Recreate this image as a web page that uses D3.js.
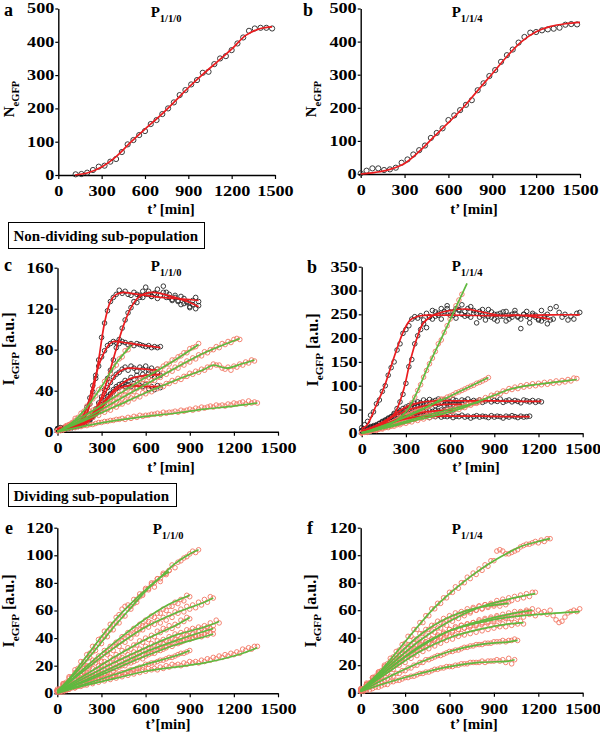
<!DOCTYPE html>
<html><head><meta charset="utf-8">
<script src="https://cdn.jsdelivr.net/npm/d3@7"></script>
<style>body{margin:0;background:#fff;}svg{display:block;}text{font-family:"Liberation Serif","Times New Roman",serif;font-weight:bold;fill:#000;white-space:pre;}</style>
</head><body><svg id="chart" width="600" height="737"></svg>
<script>
// ---------- tick values ----------
const xTickVals = [0,300,600,900,1200,1500];
const yTicksAB = [0,100,200,300,400,500];
const yTicksC = [0,40,80,120,160];
const yTicksD = [0,50,100,150,200,250,300,350];
const yTicksEF = [0,20,40,60,80,100,120];

// ---------- panel a / b : number of eGFP cells ----------
const aStart = 120, aStep = 40;
const aObs = [2,3,7,15,25,28,40,48,69,92,105,120,132,153,165,183,200,218,240,255,272,285,307,310,333,350,357,375,395,413,433,440,442,442,440];
const aFit = [[115,0],[200,6],[300,24],[400,55],[500,98],[600,138],[700,176],[800,218],[900,262],[1000,302],[1100,340],[1200,378],[1300,420],[1400,440],[1480,445]];
const bStart = 0, bStep = 40;
const bObs = [2,10,17,17,12,14,19,34,44,59,72,86,109,124,138,163,177,193,209,223,253,274,296,314,339,359,376,397,414,427,429,434,437,439,442,451,453,452];
const bFit = [[0,0],[100,5],[200,14],[300,32],[400,68],[500,112],[600,155],[700,200],[800,252],[900,303],[1000,355],[1100,400],[1200,430],[1300,446],[1400,454],[1500,458]];

// ---------- single-cell traces (sampling every 20 min from t'=0) ----------
const trStep = 20;
// panel c, non-dividing, P1/1/0
const cK1 = [3,4,3,4,5,5,6,8,10,14,19,27,39,52,70,92,106,118,127,131,134,138,135,137,134,133,136,134,131,137,141,134,132,135,130,133,142,136,131,128,133,127,124,130,126,121,128,131,127];
const cK1Fit = [[0,3],[100,4],[150,7],[200,18],[250,45],[280,70],[320,106],[360,127],[400,134],[450,136],[500,135],[600,133],[700,131],[800,130],[900,129],[960,128]];
const cK2 = [2,3,3,4,4,5,6,7,8,9,11,13,18,22,28,34,41,52,60,70,82,90,101,109,116,121,127,126,133,131,134,137,132,135,139,133,136,131,134,129,131,128,132,125,127,122,124,120,123];
const cK2Fit = [[0,2],[100,4],[200,10],[250,19],[300,34],[350,56],[400,81],[450,104],[500,121],[550,131],[600,135],[650,136],[700,135],[800,131],[900,126],[960,122]];
const cK3 = [3,3,4,4,5,5,7,9,13,18,24,33,45,55,64,73,79,84,86,88,87,86,88,87,85,86,84,86,85,84,83,84,82,83,82,83];
const cK3Fit = [[0,3],[100,5],[150,9],[200,24],[250,50],[300,72],[350,85],[380,88],[450,87],[550,85],[650,83],[700,82]];
const cK4 = [2,3,3,4,4,5,6,6,8,9,11,14,18,22,26,31,37,43,48,53,56,58,61,63,60,64,62,59,63,61,64,60,62,59,61];
const cK4Fit = [[0,2],[100,4],[200,11],[300,31],[350,45],[400,56],[450,61],[500,62],[600,61],[680,60]];
const cK5 = [2,2,3,3,4,4,5,6,7,8,10,12,15,18,22,26,30,34,37,41,44,46,47,50,49,53,51,55,52,56,54,57,55,53,57,55];
const cK5Fit = [[0,2],[100,4],[200,10],[300,26],[350,35],[400,43],[450,48],[500,52],[600,55],[700,56]];
const cK6 = [2,3,3,3,4,4,5,5,6,7,9,11,14,17,20,23,28,32,36,39,42,43,45,44,46,44,47,43,45,44,46,42,44,41,45,43];
const cK6Fit = [[0,2],[100,4],[200,9],[300,23],[350,34],[400,41],[450,44],[500,45],[600,44],[700,44]];
const cG1 = [1,3,2,6,7,9,13,14,18,20,25,27,32,35,41,43,49,51,57,63,65,71,73,79,80,85];
const cG1Fit = [[0,0],[100,9],[200,24],[300,44],[400,67],[500,84]];
const cG2 = [1,2,4,4,7,8,11,11,14,16,17,20,21,22,26,25,29,31,31,34,37,36,40,39,43,45,45,48,50,51,54,53,57,57,61,61,64,66,66,70,70,73,74,77,77,81,82,83,86];
const cG2Fit = [[0,0],[200,17],[400,35],[600,53],[800,70],[960,85]];
const cG3 = [1,3,2,5,6,8,9,11,10,14,13,17,16,20,21,23,23,26,27,30,29,33,32,36,35,39,39,42,44,43,47,47,50,50,53,53,57,56,60,59,63,62,66,65,69,68,72,71,75,74,78,77,80,80,83,82,86,85,88,87,90,91,90];
const cG3Fit = [[0,0],[200,14],[400,30],[600,46],[800,62],[1000,77],[1240,91]];
const cG4 = [1,2,2,5,5,7,6,9,10,12,11,14,14,17,16,20,19,22,21,25,24,27,27,30,29,33,32,35,34,38,37,40,39,43,42,45,44,47,47,50,49,52,51,54,54,57,56,59,58,61,60,63,63,66,65,65,62,61,63,60,64,63,66,65,68,67,70,69];
const cG4Fit = [[0,0],[200,12],[400,25],[600,38],[800,50],[1000,61],[1060,65],[1150,62],[1250,66],[1340,70]];
const cG5 = [1,1,2,3,3,4,4,5,5,6,6,7,7,8,9,9,10,10,11,11,12,12,13,12,14,13,15,14,16,15,16,16,17,17,18,17,19,18,19,19,20,19,21,20,21,22,21,23,22,24,23,24,25,24,26,25,26,25,27,26,28,27,28,29,27,30,28,29,28];
const cG5Fit = [[0,0],[200,6],[400,11],[600,15],[800,18],[1000,22],[1200,25],[1360,28]];

// panel d, non-dividing, P1/1/4
const dK1 = [12,18,25,38,45,62,70,88,100,122,138,150,175,188,210,218,226,240,245,242,247,238,252,244,258,246,252,240,256,262,248,255,242,260,250,246,262,244,252,232,256,248,238,260,244,250,236,252,246,256,240,250,258,244,220,250,256,242,252,248,238,258,246,250,262,240,266,254,244,250,238,246,240,252,254];
const dK1Fit = [[0,10],[35,17],[100,60],[150,95],[190,132],[240,178],[285,215],[330,238],[400,247],[500,248],[700,248],[900,247],[1100,248],[1300,249],[1480,249]];
const dK2 = [6,8,10,12,14,16,20,22,25,30,34,42,52,66,82,105,140,155,188,205,218,230,222,245,240,255,248,262,252,268,255,248,262,258,270,256,248,266,258,252,244,260,250,246,255,240,250,246,255,236,248,244,252,246,240,250,246,232,248,244,240,236,242,230,238];
const dK2Fit = [[0,5],[100,12],[215,38],[283,90],[328,150],[373,198],[419,232],[486,248],[600,258],[713,261],[826,254],[939,248],[1052,248],[1165,245],[1280,240]];
const dK3 = [5,8,9,12,14,16,20,24,27,32,35,40,44,47,52,55,58,60,63,66,64,70,66,71,67,69,72,65,70,68,66,71,69,64,70,68,72,66,69,67,70,65,68,71,66,69,67,72,65,68,70,66,69,67,64,70,68,66,69,65,68,66];
const dK3Fit = [[0,5],[100,15],[200,35],[300,55],[400,65],[500,68],[700,68],[900,68],[1100,67],[1220,67]];
const dK4 = [3,4,6,8,9,11,13,16,18,20,22,25,27,29,31,33,34,35,36,34,37,35,36,33,37,35,38,34,36,35,37,33,36,35,38,34,36,32,35,37,34,36,35,33,37,34,36,35,32,36,34,37,35,33,36,34,35,36];
const dK4Fit = [[0,3],[100,10],[200,22],[300,31],[400,35],[600,36],[800,36],[1000,35],[1140,35]];
const dK5 = [6,8,11,14,16,18,21,25,28,30,34,37,40,43,45,48,50,53,55,56,58,57,60,59,62,58,61,63,59,62,60,61,63,60,62];
const dK5Fit = [[0,5],[100,17],[200,33],[300,47],[400,56],[500,60],[600,61],[680,61]];
const dK6 = [4,6,7,9,11,13,15,17,20,22,24,27,29,31,34,36,38,40,42,43,44,46,45,47,46,48,47,49,48,50,48,49];
const dK6Fit = [[0,4],[100,12],[200,24],[300,36],[400,43],[500,47],[620,49]];
const dG1 = [2,3,4,5,7,8,10,12,14,17,20,24,28,33,39,45,55,64,76,90,102,118,132,146,158,172,188,196,212,226,240,252,268,280,292];
const dG1Fit = [[0,2],[100,8],[200,20],[300,45],[373,85],[450,140],[550,205],[650,272],[715,315]];
const dG2 = [1,3,5,6,8,11,13,15,17,20,22,25,27,30,32,36,38,41,44,47,50,52,56,58,61,64,67,70,72,76,78,81,85,87,90,93,96,99,101,105,107,110,113,117];
const dG2Fit = [[0,0],[200,22],[400,50],[600,78],[700,93],[860,117]];
const dG3 = [1,3,2,5,7,6,9,9,12,12,15,15,18,18,22,21,25,24,29,27,32,30,35,33,38,36,41,39,44,42,47,46,51,50,55,54,60,59,65,63,70,69,75,73,80,79,84,83,89,88,94,92,97,94,100,97,102,99,104,100,105,102,107,103,108,105,110,106,111,108,113,110,116,115];
const dG3Fit = [[0,0],[200,14],[400,30],[600,45],[700,55],[800,68],[900,80],[1000,92],[1100,99],[1200,103],[1300,107],[1460,113]];
const dG4 = [1,3,4,6,8,10,13,15,17,20,22,25,27,30,32,35,38,41,44,46,48,52,55,58,62,65,68,72];
const dG4Fit = [[0,0],[200,22],[400,48],[540,72]];
const dG5 = [1,2,4,5,7,8,10,11,13,14,16,18,20,21,23,25,27,29,30,32,34,35,37,39,41,42,44,45,47,49,50,52,54,55,57,58,60,62,63,65,66];
const dG5Fit = [[0,0],[200,16],[400,34],[600,50],[800,66]];

// panel e, dividing, P1/1/0
const eT1 = [3,3,7,7,11,12,15,16,20,21,25,26,30,31,36,36,41,41,46,46,51,51,56,56,61,61,65,66,70,71,75,75,79,77,83,81,87,87,89,93,91,95,96,98,99,101,103,102,104];
const eT1Fit = [[0,2],[100,12],[200,24],[300,37],[400,50],[500,62],[600,74],[700,84],[800,94],[900,101],[960,104]];
const eT2 = [2,3,7,8,12,12,17,18,23,23,28,29,34,34,39,40,45,45,50,50,55,57,61,63,64,63,68,68,72,72,76,76,80,80,83,83,86,86,89];
const eT2Fit = [[0,1],[100,13],[200,27],[300,41],[400,54],[500,65],[600,75],[700,84],[760,88]];
const eT3 = [2,2,6,5,9,9,13,13,17,16,20,20,24,24,27,27,31,30,34,34,37,37,41,40,44,43,47,46,50,49,53,52,56,55,58,58,61,60,63,63,66,65,68,67,71,70];
const eT3Fit = [[0,1],[150,15],[300,29],[450,42],[600,54],[750,64],[900,71]];
const eT4 = [2,3,6,5,9,9,13,12,16,15,19,19,22,22,25,23,29,28,32,31,35,34,38,37,41,40,43,43,46,46,49,48,51,50,53,51,55,53,57,55,59,58,61,59,63,61,64,62,66,64,68,66,70,69];
const eT4Fit = [[0,1],[200,18],[400,34],[600,48],[800,58],[1000,66],[1060,69]];
const eT5 = [2,2,5,4,7,7,10,9,13,12,15,15,18,17,20,20,23,22,26,25,28,27,31,30,33,32,35,35,38,37,40,39,42,41,45,44,47,46,49,47,50,49,53,52,55,54];
const eT5Fit = [[0,1],[200,14],[400,27],[600,39],[800,49],[900,55]];
const eT6 = [2,2,4,3,6,6,9,8,11,10,13,12,15,14,17,17,20,19,22,21,24,23,26,25,28,27,30,29,32,31,34,33,36,35,38,37,39,38,41,40,43,42,44,43,46,45,47,46,48,47,49,48,51,49,53,51];
const eT6Fit = [[0,1],[200,12],[400,23],[600,33],[800,42],[1000,48],[1100,52]];
const eT7 = [2,1,3,3,5,5,7,6,9,8,11,10,13,12,15,14,17,16,19,18,21,20,23,22,25,24,27,26,29,28,31,30,32,31,34,33,36,34,37,36,39,38,40,39,42,41,43,42,45,43,46,45,47,46];
const eT7Fit = [[0,1],[200,10],[400,20],[600,30],[800,38],[1000,45],[1060,47]];
const eT8 = [1,2,2,3,4,5,5,6,8,8,9,10,11,11,13,13,14,15,17,16,18,19,20,20,22,22,23,24,26,25,27,28,29,29,31,31,32,33,35,34,36,36,37,38,39,39,40,41,42,41,43,42,44,43];
const eT8Fit = [[0,1],[200,9],[400,18],[600,27],[800,35],[1000,41],[1060,43]];
const eT9 = [1,1,2,2,3,4,4,5,6,6,7,8,8,9,10,10,11,12,12,13,14,14,15,15,16,17,17,18,19,19,21,21,22,22,23,24,24,25,26,26,27,28,29,29,30,31];
const eT9Fit = [[0,1],[200,7],[400,14],[600,21],[800,27],[900,31]];
const eT10 = [1,2,1,3,3,5,4,6,5,7,6,8,7,9,8,10,9,11,10,12,11,13,12,14,13,15,14,16,15,17,16,18,17,18,17,19,18,20,19,21,20,21,20,22,21,23,22,23,22,24,23,25,24,26,25,27,26,28,27,29,28,30,29,32,31,33,32,34,34];
const eT10Fit = [[0,0],[200,6],[400,11],[600,16],[800,19],[1000,22],[1200,27],[1360,33]];

// panel f, dividing, P1/1/4
const fT1 = [3,3,7,7,11,12,15,16,20,21,25,26,30,31,35,36,41,41,46,46,51,51,56,56,61,61,65,65,69,69,73,73,77,76,80,80,84,83,87,86,90,89,93,92,96,96,103,104,103,101,101,102,103,104,106,107,108,108,109,110,109,111,110,112,112];
const fT1Fit = [[0,2],[100,12],[200,24],[300,37],[400,50],[500,62],[600,72],[700,81],[800,89],[900,96],[1000,102],[1100,107],[1200,110],[1280,112]];
const fT2 = [2,3,6,6,10,10,14,14,18,17,21,21,25,25,29,28,32,32,36,35,39,38,42,41,45,44,47,47,50,49,53,52,55,54,57,56,59,58,61,60,63,61,64,63,65,64,67,65,68,66,69,67,70,68,71,69,72,70,73,73];
const fT2Fit = [[0,1],[200,20],[400,38],[600,52],[800,62],[1000,68],[1180,72]];
const fT3 = [2,3,6,7,11,11,15,15,19,19,23,23,27,27,31,31,35,35,39,39,43,43,46,46,49,49,52,51,54,53,56,55,58,57,59,58,61,59,62,60,63,61,64,62,64,63,65,63,66,64,66];
const fT3Fit = [[0,1],[200,22],[400,42],[600,55],[800,62],[1000,65]];
const fT4 = [2,3,6,6,9,9,13,12,16,16,19,19,23,22,26,25,29,28,32,31,35,34,37,36,39,39,42,41,44,43,46,45,48,46,49,47,50,48,51,49,52,50,53,51,54,52,55,53,55,54,56,54,57,55,58,55,59,57,58,56,60,58,59,57,60,56,53,51,52,55,58,59,60,59,61];
const fT4Fit = [[0,1],[200,18],[400,34],[600,45],[800,51],[1000,55],[1200,57],[1480,59]];
const fT5 = [2,2,6,5,9,9,13,13,16,16,19,19,22,22,25,25,28,28,31,31,34,33,37,36,39,38,41,40,43,42,46,44,47,46,49,47,50,49,51,50,53,51,54,52,55,53,56,54,57,55,58,56,59,57,59,58,60,59,61];
const fT5Fit = [[0,1],[200,18],[400,33],[600,45],[800,52],[1000,57],[1160,60]];
const fT6 = [2,2,5,5,8,8,11,11,14,14,17,17,20,20,23,22,26,25,28,27,31,30,33,32,35,34,37,36,39,38,41,39,42,41,43,42,45,43,46,44,47,45,48,46,49,47,49,48,50,48,51,49,51,50,52,50];
const fT6Fit = [[0,1],[200,16],[400,30],[600,40],[800,46],[1000,50],[1100,51]];
const fT7 = [1,2,3,4,5,6,7,8,9,10,12,12,14,14,16,16,18,18,20,20,22,22,24,24,25,26,27,27,28,29,30,30,31,31,32,33,33,34,34,35,35,35,36,36,36,37,37,37,38,37,38,38,39,38];
const fT7Fit = [[0,1],[200,12],[400,22],[600,30],[800,35],[1000,37],[1060,38]];
const fT8 = [1,1,2,2,3,4,4,5,6,6,8,8,9,9,10,11,11,12,12,13,14,14,15,15,16,17,17,18,18,19,19,19,20,20,21,21,21,22,22,22,22,23,22,23,23,23,24,23,24,22,25,21,24];
const fT8Fit = [[0,1],[200,8],[400,14],[600,19],[800,22],[1000,23],[1040,24]];

// ---------- drawing ----------
const svg = d3.select('#chart');
const FONT = '"Liberation Serif","Times New Roman",serif';
const COL = {blackPt:'#262626', redPt:'#f27763', redLine:'#ea1c1f', greenLine:'#5fb93f'};

function richText(parent, x, y, parts, size, opts = {}) {
  let tf = `translate(${x},${y})`;
  if (opts.rotate) tf += ' rotate(-90)';
  const t = parent.append('text').attr('transform', tf)
    .attr('text-anchor', opts.anchor || 'start').attr('font-size', size);
  let shift = 0;
  parts.forEach(([s, sub]) => {
    const ts = t.append('tspan').text(s);
    if (sub) { const d = size * 0.32; ts.attr('font-size', size * 0.7).attr('dy', d - shift); shift = d; }
    else if (shift) { ts.attr('dy', -shift); shift = 0; }
  });
  return t;
}

function tr(obs, fit, kind, start = 0, step = trStep) { return {obs, fit, kind, start, step}; }

function drawPanel(p) {
  const g = svg.append('g');
  const x = d3.scaleLinear().domain([0, 1500]).range(p.xr);
  const y = d3.scaleLinear().domain([0, p.ymax]).range(p.yr);

  const xa = g.append('g').attr('transform', `translate(0,${p.yr[0]})`)
    .call(d3.axisBottom(x).tickValues(xTickVals).tickSize(4).tickSizeOuter(0).tickPadding(7).tickFormat(d3.format('d')));
  const ya = g.append('g').attr('transform', `translate(${p.xr[0]},0)`)
    .call(d3.axisLeft(y).tickValues(p.yticks).tickSize(3).tickSizeOuter(0).tickPadding(3).tickFormat(d3.format('d')));
  [xa, ya].forEach(a => {
    a.select('.domain').attr('stroke', '#000').attr('stroke-width', 1.4);
    a.selectAll('.tick line').attr('stroke', '#000').attr('stroke-width', 1.2);
    a.selectAll('text').attr('font-family', FONT).attr('font-weight', 'bold').attr('font-size', 14).attr('fill', '#000');
  });
  xa.selectAll('text').attr('transform', 'scale(1.3,1)');
  ya.selectAll('text').attr('transform', 'scale(1.3,1)').attr('x', -4 / 1.3);

  const line = d3.line().x(d => x(d[0])).y(d => y(d[1])).curve(d3.curveCatmullRom.alpha(0.5));
  ['k', 'r'].forEach(kind => {
    p.traces.filter(t => t.kind === kind).forEach(t => {
      g.append('g').selectAll('circle').data(t.obs).join('circle')
        .attr('cx', (d, i) => x(t.start + i * t.step)).attr('cy', d => y(d)).attr('r', p.r)
        .attr('fill', 'none').attr('stroke', kind === 'k' ? COL.blackPt : COL.redPt).attr('stroke-width', 0.9);
    });
  });
  ['k', 'r'].forEach(kind => {
    p.traces.filter(t => t.kind === kind).forEach(t => {
      g.append('path').datum(t.fit).attr('d', line).attr('fill', 'none')
        .attr('stroke', kind === 'k' ? COL.redLine : COL.greenLine).attr('stroke-width', 1.7);
    });
  });

  richText(g, p.letter[1], p.letter[2], [[p.letter[0], 0]], 18);
  richText(g, p.title[0], p.title[1], [['P', 0], [p.title[2], 1]], 15, {anchor: 'middle'});
  richText(g, p.xt[0], p.xt[1], [[p.xt[2], 0]], 15, {anchor: 'middle'});
  richText(g, p.yt[0], p.yt[1], p.yt[2], p.yt[3], {anchor: 'middle', rotate: true});
}

const Nlab = [['N', 0], ['eGFP', 1]];
const Ilab = [['I', 0], ['eGFP', 1], [' [a.u.]', 0]];

const panels = [
  {xr: [58.3, 275], yr: [175, 8.5], ymax: 500, yticks: yTicksAB, r: 2.6,
   traces: [tr(aObs, aFit, 'k', aStart, aStep)],
   letter: ['a', 4, 16], title: [166, 17, '1/1/0'], xt: [171, 214, 't\u2019 [min]'], yt: [14, 99, Nlab, 15]},
  {xr: [360.7, 580], yr: [174, 8.5], ymax: 500, yticks: yTicksAB, r: 2.6,
   traces: [tr(bObs, bFit, 'k', bStart, bStep)],
   letter: ['b', 303, 16], title: [467, 17, '1/1/4'], xt: [474, 214, 't\u2019 [min]'], yt: [316, 99, Nlab, 15]},
  {xr: [57.5, 278], yr: [431.7, 267.7], ymax: 160, yticks: yTicksC, r: 2.3,
   traces: [tr(cK1, cK1Fit, 'k'), tr(cK2, cK2Fit, 'k'), tr(cK3, cK3Fit, 'k'), tr(cK4, cK4Fit, 'k'), tr(cK5, cK5Fit, 'k'), tr(cK6, cK6Fit, 'k'),
            tr(cG1, cG1Fit, 'r'), tr(cG2, cG2Fit, 'r'), tr(cG3, cG3Fit, 'r'), tr(cG4, cG4Fit, 'r'), tr(cG5, cG5Fit, 'r')],
   letter: ['c', 4, 271], title: [166, 271, '1/1/0'], xt: [171, 472, 't\u2019 [min]'], yt: [14, 349, Ilab, 16]},
  {xr: [361.7, 582.7], yr: [433.3, 266.7], ymax: 350, yticks: yTicksD, r: 2.3,
   traces: [tr(dK1, dK1Fit, 'k'), tr(dK2, dK2Fit, 'k'), tr(dK3, dK3Fit, 'k'), tr(dK4, dK4Fit, 'k'), tr(dK5, dK5Fit, 'k'), tr(dK6, dK6Fit, 'k'),
            tr(dG1, dG1Fit, 'r'), tr(dG2, dG2Fit, 'r'), tr(dG3, dG3Fit, 'r'), tr(dG4, dG4Fit, 'r'), tr(dG5, dG5Fit, 'r')],
   letter: ['b', 307, 273], title: [467, 271, '1/1/4'], xt: [476, 472, 't\u2019 [min]'], yt: [318, 350, Ilab, 16]},
  {xr: [57.3, 278], yr: [693.3, 527.7], ymax: 120, yticks: yTicksEF, r: 2.3,
   traces: [tr(eT1, eT1Fit, 'r'), tr(eT2, eT2Fit, 'r'), tr(eT3, eT3Fit, 'r'), tr(eT4, eT4Fit, 'r'), tr(eT5, eT5Fit, 'r'),
            tr(eT6, eT6Fit, 'r'), tr(eT7, eT7Fit, 'r'), tr(eT8, eT8Fit, 'r'), tr(eT9, eT9Fit, 'r'), tr(eT10, eT10Fit, 'r')],
   letter: ['e', 5, 534], title: [168, 534, '1/1/0'], xt: [168, 729, 't\u2019[min]'], yt: [14, 611, Ilab, 16]},
  {xr: [360.7, 582.7], yr: [692.7, 527.7], ymax: 120, yticks: yTicksEF, r: 2.3,
   traces: [tr(fT1, fT1Fit, 'r'), tr(fT2, fT2Fit, 'r'), tr(fT3, fT3Fit, 'r'), tr(fT4, fT4Fit, 'r'),
            tr(fT5, fT5Fit, 'r'), tr(fT6, fT6Fit, 'r'), tr(fT7, fT7Fit, 'r'), tr(fT8, fT8Fit, 'r')],
   letter: ['f', 307, 534], title: [467, 534, '1/1/4'], xt: [474, 729, 't\u2019 [min]'], yt: [316, 611, Ilab, 16]}
];
panels.forEach(drawPanel);

// section boxes
function box(x, y, w, h, label, base) {
  svg.append('rect').attr('x', x).attr('y', y).attr('width', w).attr('height', h)
    .attr('fill', '#fff').attr('stroke', '#000').attr('stroke-width', 1);
  richText(svg, x + 5, base, [[label, 0]], 15);
}
box(8.5, 222.5, 196, 26, 'Non-dividing sub-population', 241);
box(8.5, 483.5, 168, 23, 'Dividing sub-population', 501);
</script></body></html>
